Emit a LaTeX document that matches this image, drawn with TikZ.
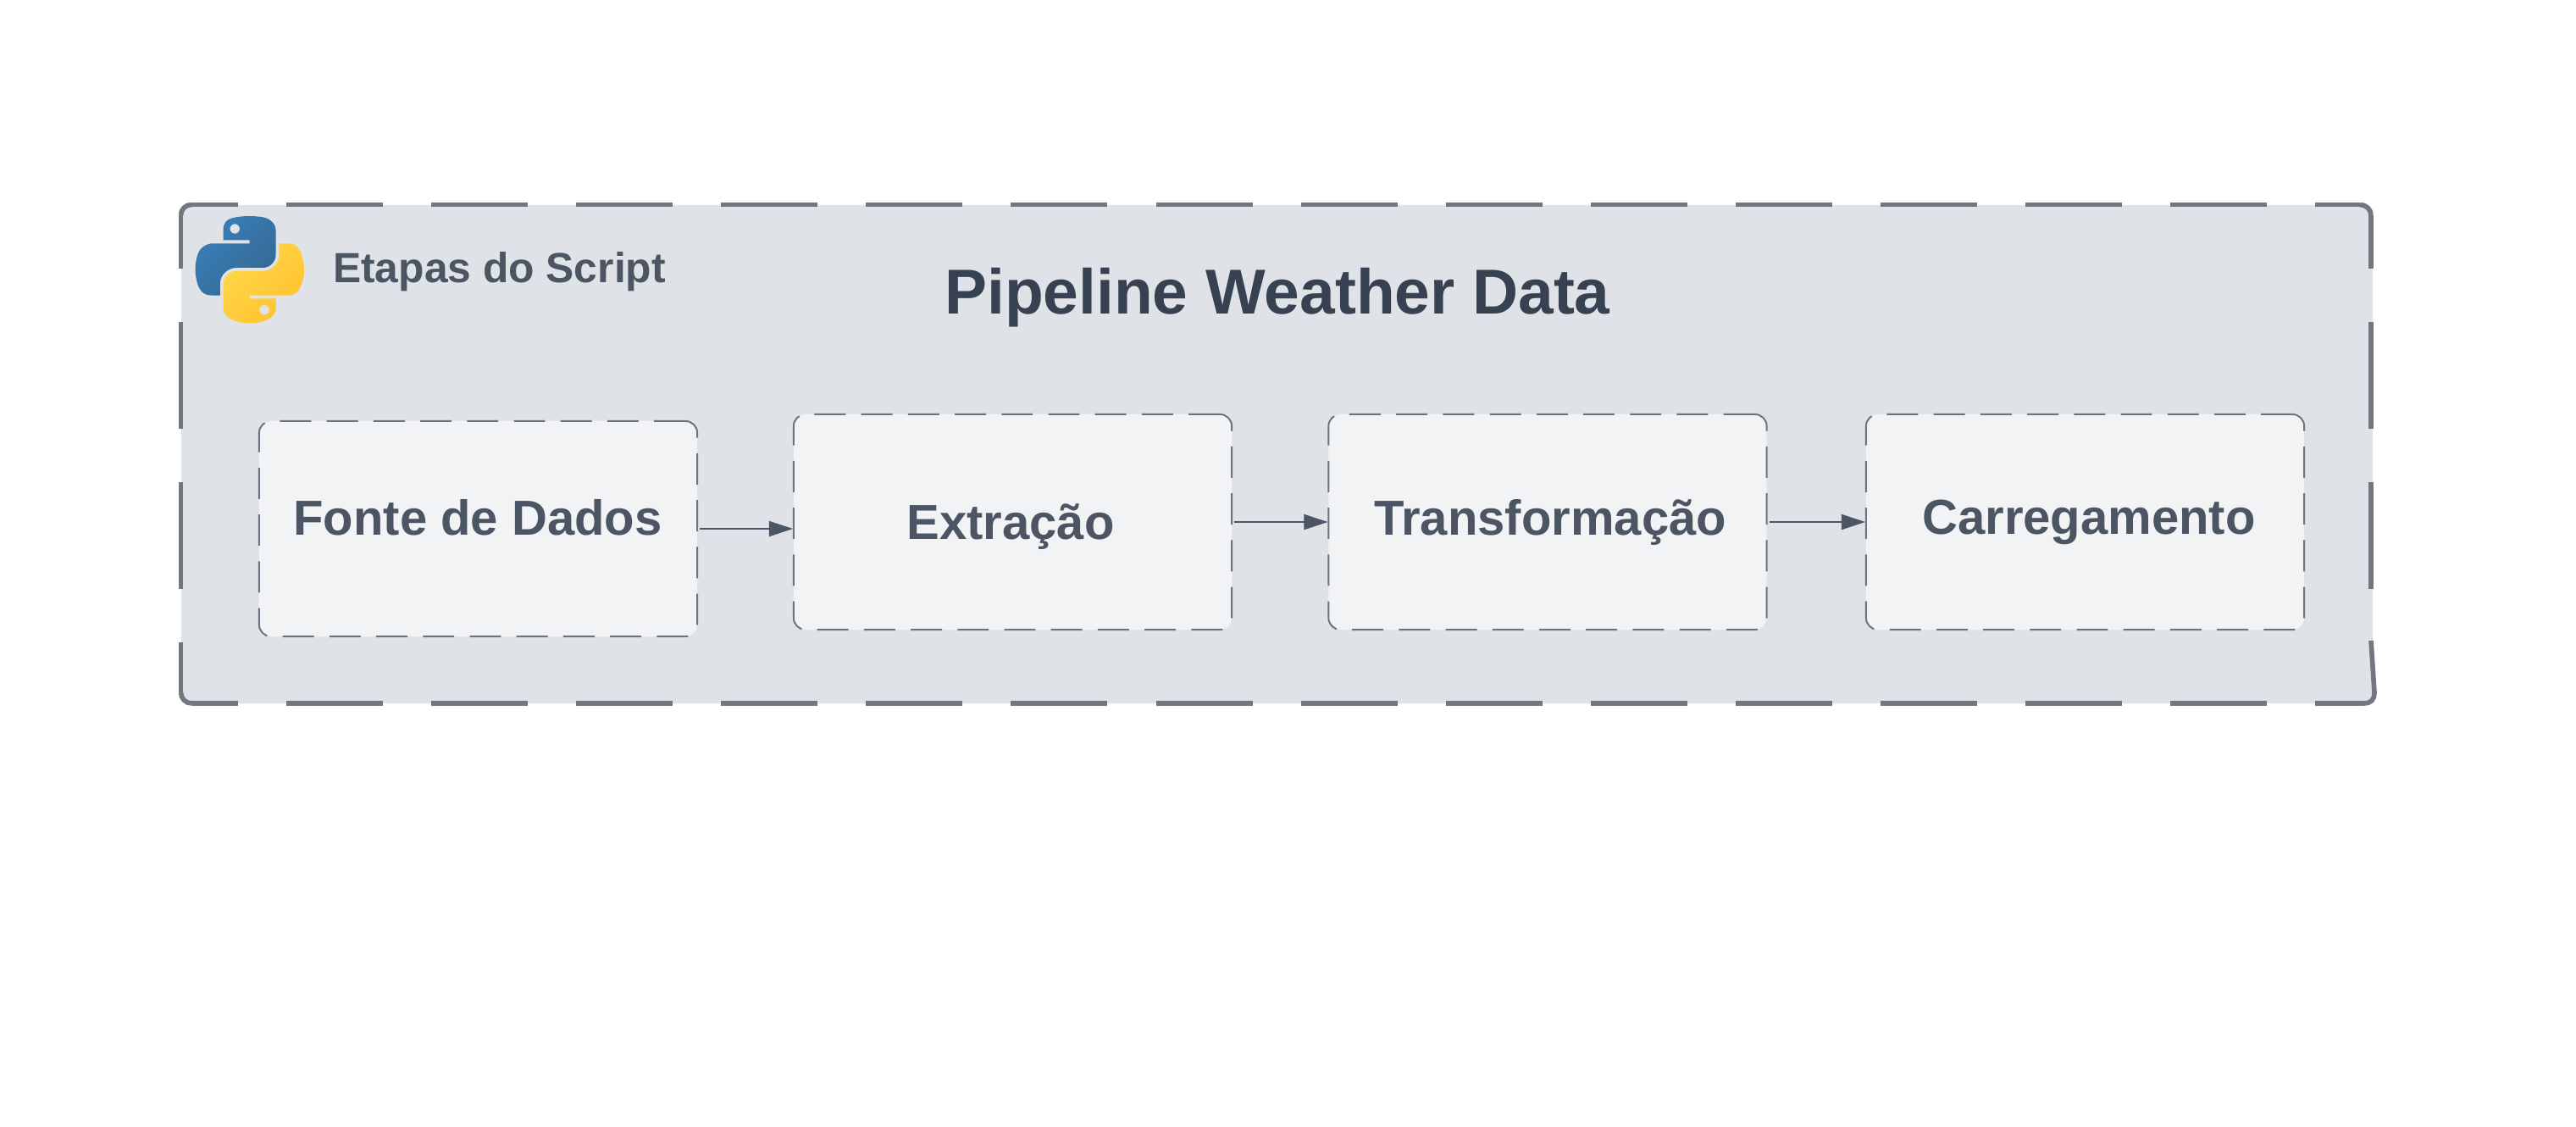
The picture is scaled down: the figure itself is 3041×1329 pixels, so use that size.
\documentclass[tikz,border=0pt]{standalone}
\usepackage{fontspec}
\setmainfont{Liberation Sans}
\usepackage{tikz}
\usetikzlibrary{arrows.meta,svg.path}
\definecolor{panelfill}{HTML}{DFE2E7}
\definecolor{panelline}{HTML}{717681}
\definecolor{stageline}{HTML}{6B7280}
\definecolor{boxfill}{HTML}{F2F3F5}
\definecolor{labelgray}{HTML}{4B5563}
\definecolor{titlegray}{HTML}{374151}
\definecolor{pyblue}{HTML}{387EB8}
\definecolor{pydeep}{HTML}{366994}
\definecolor{pylight}{HTML}{FFE052}
\definecolor{pyyellow}{HTML}{FFC331}
\tikzset{
    stagebox/.style={draw=stageline,fill=boxfill,line width=0.55pt,rounded corners=4pt,
        dash pattern=on 10.5pt off 5.2pt,minimum width=5.17cm,minimum height=2.54cm,inner sep=0pt},
    stagetext/.style={text=labelgray,font=\bfseries\fontsize{16.5}{19}\selectfont,inner sep=0pt},
    flow/.style={draw=labelgray,line width=0.36pt,shorten <=0.6pt,-{Triangle[length=8pt,width=5.2pt]}},
    panelh/.style={draw=panelline,line width=1.6pt,dash pattern=on 32.43pt off 16.22pt},
    panelv/.style={draw=panelline,line width=1.6pt,dash pattern=on 35.85pt off 17.92pt},
    panelc/.style={draw=panelline,line width=1.6pt},
}
\begin{document}
\begin{tikzpicture}[x=0.01cm,y=-0.01cm]
        \useasboundingbox (0,0) rectangle (3041,1329);
        \fill[panelfill,rounded corners=3.7pt] (214,242) rectangle (2801,830);
        \draw[panelh,dash phase=16.8pt] (226,241.5) -- (2786,241.5);
        \draw[panelh,dash phase=16.8pt] (226,830) -- (2790,830);
        \draw[panelv,dash phase=18pt] (213.5,254) -- (213.5,817);
        \draw[panelv,dash phase=18pt] (2799,254) -- (2799,756);
        \draw[panelc] (213.5,254) .. controls (213.5,247) and (219,241.5) .. (226,241.5);
        \draw[panelc] (213.5,817) .. controls (213.5,824) and (219,830) .. (226,830);
        \draw[panelc] (2786,241.5) .. controls (2793,241.5) and (2799,247) .. (2799,254);
        \draw[panelc] (2799,756) -- (2803,817) .. controls (2803,826) and (2799,830) .. (2790,830);
        \begin{scope}[shift={(230.5,255)},xscale=0.3286,yscale=-0.32]
            \path[even odd rule,shading=axis,top color=pyblue,bottom color=pydeep,shading angle=45]
                (0,0) svg[] {M54.919,0.001 c-4.584,0.022-8.961,0.413-12.812,1.095 C30.76,3.099,28.7,7.295,28.7,15.032 v10.219 h26.813 v3.406 H28.7 H18.638 c-7.792,0-14.616,4.684-16.75,13.594 c-2.462,10.213-2.571,16.586,0,27.25 c1.906,7.938,6.458,13.594,14.25,13.594 h9.219 v-12.25 c0-8.85,7.657-16.656,16.75-16.656 h26.781 c7.455,0,13.406-6.138,13.406-13.625 v-25.531 c0-7.266-6.13-12.725-13.406-13.937 C64.282,0.328,59.502-0.02,54.919,0.001 z M40.419,8.219 c2.77,0,5.031,2.299,5.031,5.125 c0,2.816-2.262,5.094-5.031,5.094 c-2.78,0-5.031-2.277-5.031-5.094 C35.388,10.518,37.639,8.219,40.419,8.219 z};
            \path[even odd rule,shading=axis,top color=pylight,bottom color=pyyellow,shading angle=45]
                (0,0) svg[] {M85.638,28.657 v11.906 c0,9.231-7.826,17-16.75,17 H42.106 c-7.336,0-13.406,6.278-13.406,13.625 V96.719 c0,7.266,6.319,11.54,13.406,13.625 c8.487,2.496,16.626,2.947,26.781,0 c6.75-1.954,13.406-5.888,13.406-13.625 V86.501 H55.513 v-3.406 h26.781 h13.406 c7.792,0,10.696-5.435,13.406-13.594 c2.799-8.399,2.741-16.476,0-27.25 c-1.926-7.757-5.604-13.594-13.406-13.594 H85.638 z M70.575,93.313 c2.78,0,5.031,2.277,5.031,5.094 c0,2.826-2.252,5.125-5.031,5.125 c-2.77,0-5.031-2.299-5.031-5.125 C65.544,95.59,67.805,93.313,70.575,93.313 z};
        \end{scope}
        \node[anchor=west,text=labelgray,inner sep=0pt,font=\bfseries\fontsize{14.15}{16}\selectfont] (scriptlabel) at (392.5,321) {Etapas do Script};
        \node[text=titlegray,inner sep=0pt,font=\bfseries\fontsize{21.3}{25}\selectfont] (pipelinetitle) at (1508,351) {Pipeline Weather Data};
        \node[stagebox] (fonte) at (564.5,624) {};
        \node[stagebox] (extracao) at (1195.5,616) {};
        \node[stagebox] (transforma) at (1827,616) {};
        \node[stagebox] (carrega) at (2461.5,616) {};
        \node[stagetext] (fontetxt) at (564,611) {Fonte de Dados};
        \node[stagetext] (extracaotxt) at (1193,622) {Extração};
        \node[stagetext] (transformatxt) at (1830,616) {Transformação};
        \node[stagetext] (carregatxt) at (2466,616) {Carregamento};
        \draw[flow] (fonte.east) -- (fonte.east -| extracao.west);
        \draw[flow] (extracao.east) -- (transforma.west);
        \draw[flow] (transforma.east) -- (carrega.west);
    \end{tikzpicture}
\end{document}
